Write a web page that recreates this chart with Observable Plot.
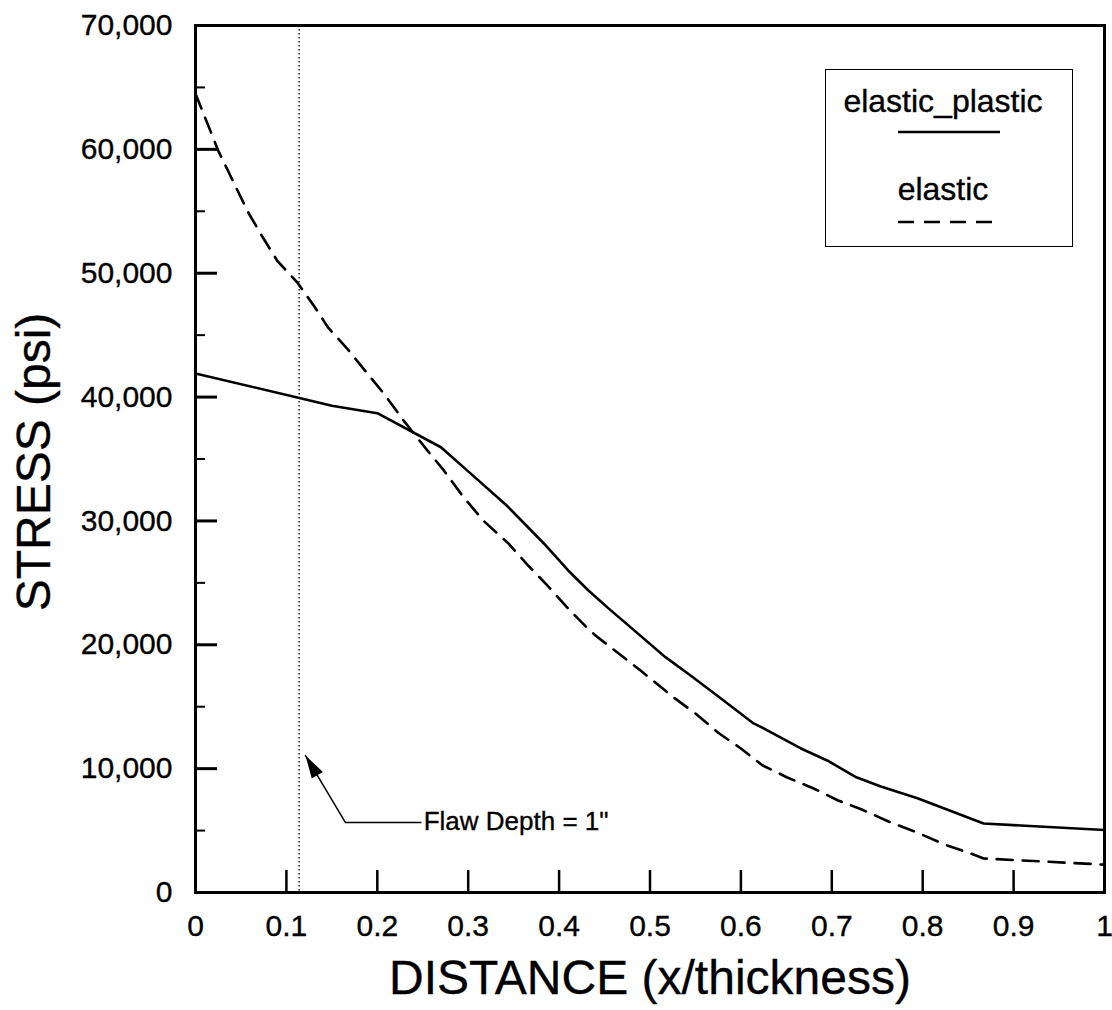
<!DOCTYPE html>
<html>
<head>
<meta charset="utf-8">
<script src="https://cdn.jsdelivr.net/npm/d3@7"></script>
<script src="https://cdn.jsdelivr.net/npm/@observablehq/plot@0.6"></script>
<style>
  html, body { margin: 0; padding: 0; background: #fff; }
  #wrap { position: relative; width: 1112px; height: 1010px; overflow: hidden; }
  #legend { position: absolute; left: 825px; top: 69px; width: 248px; height: 178px;
            box-sizing: border-box; border: 1.5px solid #000; background: #fff; }
  #wrap text { stroke: #000; stroke-width: 0.35px; }
</style>
</head>
<body>
<div id="wrap">
  <div id="chart"></div>
  <div id="legend"></div>
</div>
<script>
// ---- data ----
const seriesNames = ["elastic_plastic", "elastic"];

const plasticX = [0, 0.112, 0.15, 0.2, 0.27, 0.3, 0.343, 0.383, 0.41, 0.432, 0.455, 0.49, 0.517, 0.545, 0.581, 0.614, 0.625, 0.666, 0.695, 0.727, 0.754, 0.795, 0.867, 1.0];
const plasticY = [41900, 39970, 39300, 38700, 35950, 34000, 31200, 28200, 26000, 24400, 22900, 20700, 19000, 17500, 15500, 13650, 13250, 11630, 10660, 9300, 8560, 7590, 5570, 5050];

const elasticX = [0, 0.025, 0.058, 0.074, 0.09, 0.112, 0.13, 0.146, 0.167, 0.178, 0.207, 0.229, 0.255, 0.273, 0.295, 0.317, 0.344, 0.366, 0.387, 0.409, 0.429, 0.44, 0.49, 0.526, 0.55, 0.575, 0.6, 0.624, 0.64, 0.651, 0.68, 0.707, 0.733, 0.765, 0.794, 0.827, 0.853, 0.867, 1.0];
const elasticY = [64500, 59900, 54900, 52900, 51000, 49250, 47400, 45600, 43900, 42900, 40300, 38100, 35700, 34100, 31900, 30000, 28200, 26400, 24800, 23000, 21500, 20750, 17900, 15750, 14450, 12900, 11630, 10250, 9690, 9285, 8400, 7430, 6700, 5650, 4840, 3790, 3150, 2750, 2250];

const xTickLabels = [0, 0.1, 0.2, 0.3, 0.4, 0.5, 0.6, 0.7, 0.8, 0.9, 1];
const xTickMarks = [0.1, 0.2, 0.3, 0.4, 0.5, 0.6, 0.7, 0.8, 0.9];
const yTickLabels = [0, 10000, 20000, 30000, 40000, 50000, 60000, 70000];
const yMinorTicks = [5000, 15000, 25000, 35000, 45000, 55000, 65000];

const xTitle = "DISTANCE (x/thickness)";
const yTitle = "STRESS (psi)";

const flawDepthX = 0.114;
const flawLabel = "Flaw Depth = 1\"";
const flawLabelPos = [0.251, 5750];
const flawLeader = [[0.248, 5650], [0.165, 5650], [0.121, 11060]];

// ---- build ----
const FONT = "'Liberation Sans', Arial, Helvetica, sans-serif";
const W = 1112, H = 1010;
const mL = 195, mR = 8, mT = 25, mB = 118;
const fw = W - mL - mR, fh = H - mT - mB;

const plastic = plasticX.map((x, i) => ({x, y: plasticY[i]}));
const elastic = elasticX.map((x, i) => ({x, y: elasticY[i]}));
const leader = flawLeader.map(([x, y]) => ({x, y}));
const tip = [leader[leader.length - 1]];

const arrowHead = {
  draw(ctx) {
    ctx.moveTo(0, 0);
    ctx.lineTo(-6.5, 23);
    ctx.lineTo(6.5, 23);
    ctx.closePath();
  }
};

const chart = Plot.plot({
  width: W,
  height: H,
  marginLeft: mL,
  marginRight: mR,
  marginTop: mT,
  marginBottom: mB,
  style: {fontFamily: FONT, fontSize: "30px", color: "#000", background: "#fff", overflow: "visible"},
  x: {domain: [0, 1]},
  y: {domain: [0, 70000]},
  marks: [
    Plot.ruleX([flawDepthX], {stroke: "#000", strokeWidth: 1.3, strokeDasharray: "1.5,2.5"}),
    Plot.line(plastic, {x: "x", y: "y", stroke: "#000", strokeWidth: 2.6}),
    Plot.line(elastic, {x: "x", y: "y", stroke: "#000", strokeWidth: 2.6, strokeDasharray: "16,10"}),
    Plot.tickY(yTickLabels.slice(1, -1), {y: d => d, insetRight: fw - 22, strokeWidth: 3}),
    Plot.tickY(yMinorTicks, {y: d => d, insetRight: fw - 10, strokeWidth: 2}),
    Plot.tickX(xTickMarks, {x: d => d, insetTop: fh - 22, strokeWidth: 2.5}),
    Plot.axisY({ticks: yTickLabels, tickSize: 0, tickPadding: 23, tickFormat: d3.format(","), label: null, fontSize: 30}),
    Plot.axisX({ticks: xTickLabels, tickSize: 0, tickPadding: 22, tickFormat: d => String(d), label: null, fontSize: 30}),
    Plot.frame({stroke: "#000", strokeWidth: 3}),
    Plot.line(leader, {x: "x", y: "y", stroke: "#000", strokeWidth: 1.5}),
    Plot.dot(tip, {x: "x", y: "y", symbol: arrowHead, rotate: -31, fill: "#000", stroke: "none", r: 5}),
    Plot.text([{x: flawLabelPos[0], y: flawLabelPos[1], t: flawLabel}], {x: "x", y: "y", text: "t", textAnchor: "start", lineAnchor: "middle", fontSize: 26}),
    Plot.text([yTitle], {frameAnchor: "left", rotate: -90, dx: -161, dy: 3, fontSize: 48, textAnchor: "middle", lineAnchor: "middle"}),
    Plot.text([xTitle], {frameAnchor: "bottom", dy: 86, fontSize: 48, textAnchor: "middle", lineAnchor: "middle"})
  ]
});
document.getElementById("chart").appendChild(chart);

// ---- legend ----
const lg = d3.select("#legend").append("svg")
  .attr("width", 245).attr("height", 175)
  .style("display", "block")
  .style("font-family", FONT);
const rows = [
  {name: seriesNames[0], ty: 42, ly: 62, dash: null},
  {name: seriesNames[1], ty: 130, ly: 152, dash: "16,10"}
];
for (const r of rows) {
  lg.append("text").attr("x", 117).attr("y", r.ty).attr("text-anchor", "middle")
    .attr("font-size", 32).text(r.name);
  lg.append("line").attr("x1", 72).attr("x2", 174).attr("y1", r.ly).attr("y2", r.ly)
    .attr("stroke", "#000").attr("stroke-width", 2.6)
    .attr("stroke-dasharray", r.dash);
}
</script>
</body>
</html>
